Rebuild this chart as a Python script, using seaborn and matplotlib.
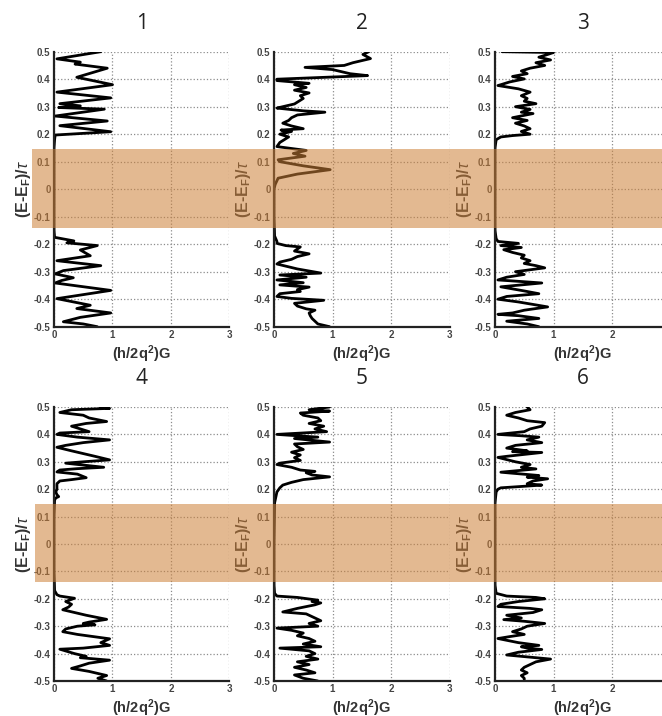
import matplotlib
matplotlib.use("Agg")
import matplotlib.pyplot as plt
import matplotlib.transforms as mtransforms
from matplotlib.patches import Rectangle
import seaborn as sns
import pandas as pd

# ---------------- data ----------------
PANEL_TITLES = ["1", "2", "3", "4", "5", "6"]
X_TICKS = [0, 1, 2, 3]
Y_TICKS = [-0.5, -0.4, -0.3, -0.2, -0.1, 0, 0.1, 0.2, 0.3, 0.4, 0.5]
Y_TICK_LABELS = ["-0.5", "-0.4", "-0.3", "-0.2", "-0.1", "0", "0.1", "0.2", "0.3", "0.4", "0.5"]
BAND = [-0.14, 0.145]

E1 = [0.5, 0.474, 0.462, 0.455, 0.44, 0.407, 0.38, 0.353, 0.332, 0.311, 0.303, 0.297, 0.291, 0.266,
      0.248, 0.231, 0.209, 0.197, 0.18, 0.15, 0.1, 0.0, -0.1, -0.15, -0.175, -0.188, -0.195, -0.205,
      -0.221, -0.242, -0.26, -0.278, -0.296, -0.308, -0.322, -0.332, -0.341, -0.368, -0.398, -0.422,
      -0.434, -0.45, -0.466, -0.482, -0.49, -0.5]
G1 = [0.80, 0.05, 0.45, 0.36, 0.91, 0.39, 1.0, 0.05, 0.97, 0.10, 0.45, 0.08, 0.86, 0.02,
      0.91, 0.10, 0.97, 0.02, 0.01, 0.0, 0.0, 0.0, 0.0, 0.0, 0.01, 0.34, 0.22, 0.74,
      0.45, 0.62, 0.05, 0.80, 0.16, 0.02, 0.33, 0.13, 0.02, 0.97, 0.05, 0.62,
      0.39, 0.97, 0.45, 0.16, 0.50, 0.74]

E2 = [0.5, 0.49, 0.475, 0.46, 0.45, 0.443, 0.435, 0.42, 0.413, 0.40, 0.395, 0.385, 0.38, 0.37, 0.36,
      0.35, 0.34, 0.33, 0.31, 0.30, 0.295, 0.285, 0.28, 0.27, 0.26, 0.25, 0.24, 0.23, 0.22, 0.215,
      0.21, 0.20, 0.19, 0.17, 0.155, 0.141, 0.13, 0.12, 0.107, 0.10, 0.085, 0.071, 0.055, 0.04,
      0.017, 0.0, -0.1, -0.17, -0.19, -0.197, -0.205, -0.21, -0.225, -0.235, -0.245, -0.255,
      -0.265, -0.272, -0.29, -0.305, -0.312, -0.32, -0.33, -0.34, -0.348, -0.356, -0.365,
      -0.372, -0.38, -0.39, -0.397, -0.404, -0.415, -0.425, -0.435, -0.44, -0.45, -0.46,
      -0.47, -0.48, -0.49, -0.5]
G2 = [1.62, 1.52, 1.65, 1.35, 1.2, 0.53, 1.0, 1.3, 1.6, 0.05, 0.05, 0.6, 0.35, 0.55, 0.35,
      0.6, 0.45, 0.5, 0.35, 0.15, 0.05, 0.5, 0.87, 0.4, 0.3, 0.25, 0.15, 0.3, 0.5, 0.12,
      0.3, 0.1, 0.25, 0.1, 0.05, 0.55, 0.33, 0.53, 0.07, 0.1, 0.5, 0.96, 0.4, 0.07,
      0.02, 0.0, 0.0, 0.01, 0.05, 0.05, 0.2, 0.45, 0.35, 0.6, 0.4, 0.3,
      0.1, 0.05, 0.4, 0.8, 0.1, 0.55, 0.05, 0.5, 0.1, 0.6, 0.4,
      0.45, 0.1, 0.05, 0.3, 0.85, 0.35, 0.4, 0.55, 0.7, 0.6, 0.62,
      0.65, 0.7, 0.75, 0.95]

E3 = [0.5, 0.497, 0.49, 0.48, 0.47, 0.46, 0.45, 0.44, 0.43, 0.42, 0.41, 0.401, 0.39, 0.38, 0.377,
      0.365, 0.353, 0.34, 0.33, 0.32, 0.311, 0.30, 0.29, 0.28, 0.275, 0.26, 0.25, 0.24, 0.23, 0.22,
      0.21, 0.20, 0.195, 0.19, 0.18, 0.15, 0.0, -0.15, -0.18, -0.19, -0.197, -0.205, -0.212,
      -0.22, -0.23, -0.24, -0.25, -0.26, -0.27, -0.278, -0.286, -0.30, -0.31, -0.32, -0.33,
      -0.335, -0.341, -0.355, -0.37, -0.38, -0.39, -0.40, -0.41, -0.428, -0.44, -0.45, -0.455,
      -0.46, -0.47, -0.48, -0.49, -0.5]
G3 = [0.12, 1.0, 0.9, 0.75, 0.95, 0.7, 0.85, 0.6, 0.45, 0.55, 0.3, 0.5, 0.25, 0.1, 0.05,
      0.4, 0.6, 0.45, 0.55, 0.5, 0.7, 0.35, 0.6, 0.45, 0.65, 0.3, 0.55, 0.35, 0.5, 0.6,
      0.45, 0.6, 0.3, 0.1, 0.02, 0.0, 0.0, 0.0, 0.02, 0.05, 0.4, 0.1, 0.45,
      0.15, 0.3, 0.5, 0.45, 0.6, 0.5, 0.7, 0.85, 0.35, 0.5, 0.2, 0.05,
      0.4, 0.8, 0.1, 0.5, 0.75, 0.2, 0.05, 0.4, 0.9, 0.5, 0.3, 0.05,
      0.4, 0.75, 0.2, 0.55, 0.75]

E4 = [0.5, 0.495, 0.49, 0.48, 0.47, 0.46, 0.447, 0.44, 0.43, 0.41, 0.405, 0.40, 0.39, 0.38, 0.37,
      0.36, 0.353, 0.34, 0.33, 0.32, 0.307, 0.30, 0.295, 0.28, 0.275, 0.27, 0.263, 0.255, 0.242,
      0.235, 0.23, 0.22, 0.20, 0.19, 0.18, 0.173, 0.168, 0.16, 0.1, 0.0, -0.1, -0.17, -0.185,
      -0.19, -0.198, -0.21, -0.22, -0.23, -0.24, -0.25, -0.26, -0.275, -0.285, -0.29, -0.295,
      -0.30, -0.31, -0.32, -0.33, -0.346, -0.36, -0.37, -0.38, -0.384, -0.40, -0.41, -0.415,
      -0.424, -0.435, -0.445, -0.454, -0.465, -0.48, -0.49, -0.5]
G4 = [0.8, 0.95, 0.3, 0.1, 0.5, 0.6, 0.9, 0.55, 0.3, 0.6, 0.1, 0.05, 0.4, 0.95, 0.5,
      0.2, 0.05, 0.3, 0.5, 0.7, 0.95, 0.5, 0.2, 0.85, 0.4, 0.1, 0.05, 0.4, 0.55,
      0.3, 0.1, 0.05, 0.05, 0.03, 0.05, 0.08, 0.03, 0.01, 0.0, 0.0, 0.0, 0.01, 0.05,
      0.1, 0.35, 0.2, 0.3, 0.25, 0.15, 0.35, 0.55, 0.9, 0.6, 0.5, 0.7,
      0.4, 0.2, 0.15, 0.4, 0.95, 0.8, 0.95, 0.5, 0.1, 0.35, 0.55, 0.45,
      0.95, 0.6, 0.45, 0.3, 0.6, 0.9, 0.75, 0.9]

E5 = [0.5, 0.49, 0.485, 0.478, 0.47, 0.46, 0.45, 0.44, 0.43, 0.42, 0.41, 0.40, 0.39, 0.385,
      0.372, 0.365, 0.355, 0.345, 0.335, 0.325, 0.315, 0.305, 0.295, 0.29, 0.28, 0.27, 0.265,
      0.26, 0.252, 0.245, 0.235, 0.225, 0.215, 0.205, 0.19, 0.15, 0.0, -0.15, -0.18, -0.19,
      -0.195, -0.205, -0.21, -0.215, -0.222, -0.235, -0.248, -0.255, -0.265, -0.27, -0.28,
      -0.29, -0.30, -0.307, -0.315, -0.325, -0.335, -0.345, -0.355, -0.365, -0.375, -0.38,
      -0.39, -0.40, -0.41, -0.42, -0.43, -0.44, -0.45, -0.46, -0.47, -0.478, -0.49, -0.5]
G5 = [0.95, 0.6, 0.95, 0.45, 0.5, 0.75, 0.8, 0.6, 0.85, 0.7, 0.9, 0.05, 0.75, 0.35,
      0.95, 0.35, 0.4, 0.5, 0.3, 0.45, 0.35, 0.45, 0.1, 0.05, 0.3, 0.45, 0.7,
      0.55, 0.65, 0.95, 0.5, 0.3, 0.15, 0.1, 0.05, 0.01, 0.0, 0.0, 0.01, 0.05,
      0.4, 0.75, 0.65, 0.8, 0.7, 0.4, 0.15, 0.55, 0.65, 0.7, 0.8,
      0.6, 0.75, 0.05, 0.3, 0.5, 0.4, 0.6, 0.7, 0.5, 0.8, 0.1,
      0.6, 0.7, 0.55, 0.75, 0.4, 0.6, 0.35, 0.55, 0.7, 0.35, 0.5, 0.75]

E6 = [0.5, 0.49, 0.48, 0.47, 0.46, 0.45, 0.443, 0.43, 0.42, 0.41, 0.40, 0.395, 0.39, 0.38, 0.37,
      0.36, 0.35, 0.34, 0.337, 0.334, 0.32, 0.316, 0.30, 0.29, 0.28, 0.274, 0.262, 0.25, 0.244,
      0.238, 0.23, 0.22, 0.215, 0.21, 0.205, 0.2, 0.19, 0.15, 0.0, -0.15, -0.18, -0.19, -0.195,
      -0.2, -0.21, -0.22, -0.228, -0.235, -0.24, -0.25, -0.26, -0.27, -0.276, -0.282, -0.29,
      -0.30, -0.31, -0.32, -0.33, -0.338, -0.345, -0.36, -0.37, -0.375, -0.38, -0.385, -0.395,
      -0.405, -0.412, -0.42, -0.43, -0.44, -0.45, -0.46, -0.47, -0.48, -0.49, -0.5]
G6 = [0.55, 0.6, 0.35, 0.2, 0.4, 0.55, 0.85, 0.8, 0.6, 0.5, 0.05, 0.45, 0.75, 0.55, 0.8,
      0.35, 0.2, 0.55, 0.3, 0.8, 0.2, 0.05, 0.35, 0.6, 0.45, 0.7, 0.1, 0.75, 0.55,
      0.9, 0.65, 0.55, 0.8, 0.45, 0.1, 0.05, 0.02, 0.0, 0.0, 0.0, 0.02, 0.2, 0.7,
      0.85, 0.4, 0.1, 0.05, 0.6, 0.8, 0.65, 0.2, 0.45, 0.15, 0.5, 0.85,
      0.55, 0.45, 0.3, 0.5, 0.25, 0.05, 0.4, 0.75, 0.45, 0.55, 0.8, 0.4,
      0.2, 0.55, 0.95, 0.7, 0.6, 0.5, 0.45, 0.55, 0.45, 0.5, 0.5]

ENERGIES = [E1, E2, E3, E4, E5, E6]
CONDUCT = [G1, G2, G3, G4, G5, G6]

# ---------------- style ----------------
sns.set_style("white")
plt.rcParams["font.family"] = ["Liberation Sans", "DejaVu Sans"]
plt.rcParams["mathtext.fontset"] = "custom"
plt.rcParams["mathtext.rm"] = "Liberation Sans"
plt.rcParams["mathtext.bf"] = "Liberation Sans:bold"
plt.rcParams["mathtext.it"] = "Liberation Sans:italic"

W, H = 662, 716
fig = plt.figure(figsize=(W / 100, H / 100), dpi=100)

lefts = [54, 274, 495]
row_tops = [51.7, 407]
row_heights = [275, 274]
ax_w = 175.5

axes = []
for i in range(6):
    r, c = divmod(i, 3)
    left = lefts[c] / W
    bottom = (H - row_tops[r] - row_heights[r]) / H
    ax = fig.add_axes([left, bottom, ax_w / W, row_heights[r] / H])
    df = pd.DataFrame({"G": CONDUCT[i], "E": ENERGIES[i]})
    sns.lineplot(data=df, x="G", y="E", sort=False, estimator=None,
                 color="black", linewidth=2.0, ax=ax)
    ax.set_xlim(0, 3)
    ax.set_ylim(-0.5, 0.5)
    ax.set_xticks(X_TICKS)
    ax.set_xticklabels([str(t) for t in X_TICKS])
    ax.set_yticks(Y_TICKS)
    ax.set_yticklabels(Y_TICK_LABELS)
    ax.grid(True, linestyle=":", color="#8c8c8c", linewidth=0.9)
    for s in ["top", "right"]:
        ax.spines[s].set_visible(False)
    for s in ["left", "bottom"]:
        ax.spines[s].set_color("#222222")
        ax.spines[s].set_linewidth(1.6)
    ax.tick_params(axis="both", direction="in", length=2, width=0.8, pad=2.5,
                   labelsize=7, labelcolor="#444444", colors="#444444")
    for lab in ax.get_xticklabels() + ax.get_yticklabels():
        lab.set_fontweight("bold")
    ax.set_xlabel(r"(h/2q$^{\mathbf{2}}$)G", fontsize=10.5, fontweight="bold",
                  color="#333333")
    ax.set_ylabel(r"(E-E$_{\mathbf{F}}$)/$\tau$", fontsize=11.5, fontweight="bold",
                  color="#333333")
    ax.xaxis.set_label_coords(0.5, -0.06)
    ax.yaxis.set_label_coords(-0.12, 0.5)
    ax.set_zorder(1)
    axes.append(ax)

    cx = (lefts[c] + ax_w / 2) / W
    ty = (H - (row_tops[r] - 28)) / H
    fig.text(cx, ty, PANEL_TITLES[i], ha="center", va="center", fontsize=15,
             family="Open Sans", color="#222222")

# orange band spanning each row
band_starts = [32, 35]
for r in range(2):
    trans = mtransforms.blended_transform_factory(fig.transFigure, axes[3 * r].transData)
    rect = Rectangle((band_starts[r] / W, BAND[0]), 1.0, BAND[1] - BAND[0],
                     transform=trans, facecolor=(0.80, 0.50, 0.22), alpha=0.55,
                     edgecolor="none", zorder=10)
    fig.add_artist(rect)

fig.savefig("out.png", dpi=100)
